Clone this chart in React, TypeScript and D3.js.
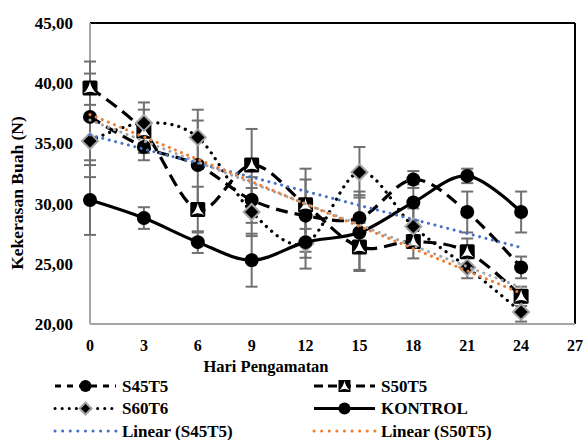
import React from "react";
import * as d3 from "d3";

const days = [0, 3, 6, 9, 12, 15, 18, 21, 24];
const s45t5 = [37.2, 34.7, 33.2, 30.3, 29.0, 28.8, 32.0, 29.3, 24.7];
const s50t5 = [39.6, 36.0, 29.5, 33.2, 29.9, 26.4, 26.85, 26.0, 22.3];
const s60t6 = [35.2, 36.7, 35.5, 29.3, 26.7, 32.6, 28.1, 24.7, 21.0];
const kontrol = [30.3, 28.8, 26.8, 25.3, 26.8, 27.6, 30.1, 32.3, 29.3];
const errS45t5 = [3.6, 1.1, 3.7, 1.9, 3.0, 2.2, 0.7, 1.7, 0.9];
const errS50t5 = [2.2, 1.8, 1.9, 3.0, 3.0, 2.0, 1.4, 1.1, 0.8];
const errS60t6 = [3.0, 1.7, 2.3, 2.0, 1.2, 2.1, 1.5, 0.9, 0.8];
const errKontrol = [2.9, 0.9, 0.9, 2.2, 2.2, 3.1, 1.5, 0.6, 1.7];
const yTicks = [20, 25, 30, 35, 40, 45];
const xTicks = [0, 3, 6, 9, 12, 15, 18, 21, 24, 27];

const W = 584, H = 440;
const FONT = "Liberation Serif, Times New Roman, DejaVu Serif, serif";

function regression(xs: number[], ys: number[]) {
  const mx = d3.mean(xs)!, my = d3.mean(ys)!;
  let sxy = 0, sxx = 0;
  xs.forEach((x, i) => { sxy += (x - mx) * (ys[i] - my); sxx += (x - mx) ** 2; });
  const b = sxy / sxx;
  const a = my - b * mx;
  return (x: number) => a + b * x;
}

const starPath = "M0,-6.5 Q1.2,0.5 6.5,5.5 Q0,2 -6.5,5.5 Q-1.2,0.5 0,-6.5 Z";

function Marker({ kind, x, y }: { kind: string; x: number; y: number }) {
  if (kind === "circle") return <circle cx={x} cy={y} r={7} fill="#000" />;
  if (kind === "diamond")
    return <path d={`M${x},${y - 8} L${x + 8},${y} L${x},${y + 8} L${x - 8},${y} Z`} fill="#000" stroke="#a5a5a5" strokeWidth={2} />;
  return (
    <g transform={`translate(${x},${y})`}>
      <rect x={-7.5} y={-7.5} width={15} height={15} rx={1.5} fill="#000" />
      <path d={starPath} fill="#fff" />
    </g>
  );
}

const T = { fontFamily: FONT, fontWeight: 700 } as React.CSSProperties;

export default function App() {
  const x = d3.scaleLinear().domain([0, 27]).range([90, 575]);
  const y = d3.scaleLinear().domain([20, 45]).range([324, 23]);
  const line = d3.line<number>().x((_, i) => x(days[i])).y((d) => y(d)).curve(d3.curveCardinal.tension(0));

  const series = [
    { name: "S45T5", vals: s45t5, err: errS45t5, dash: "12,7", marker: "circle" },
    { name: "S50T5", vals: s50t5, err: errS50t5, dash: "13,7", marker: "star" },
    { name: "S60T6", vals: s60t6, err: errS60t6, dash: "0.1,7", marker: "diamond" },
    { name: "KONTROL", vals: kontrol, err: errKontrol, dash: "none", marker: "circle" },
  ];
  const trends = [
    { vals: s45t5, color: "#4472c4" },
    { vals: s50t5, color: "#ed7d31" },
    { vals: s60t6, color: "#a5a5a5" },
  ];

  const legend = [
    { label: "S45T5", col: 0, row: 0, dash: "6,6", marker: "circle", color: "#000" },
    { label: "S50T5", col: 1, row: 0, dash: "9,5", marker: "star", color: "#000" },
    { label: "S60T6", col: 0, row: 1, dash: "0.1,7", marker: "diamond", color: "#000" },
    { label: "KONTROL", col: 1, row: 1, dash: "none", marker: "circle", color: "#000" },
    { label: "Linear (S45T5)", col: 0, row: 2, dash: "0.1,7.5", marker: "", color: "#4472c4" },
    { label: "Linear (S50T5)", col: 1, row: 2, dash: "0.1,7.5", marker: "", color: "#ed7d31" },
  ];

  return (
    <svg width={W} height={H} style={{ position: "absolute", left: 0, top: 0, background: "#fff" }}>
      <rect width={W} height={H} fill="#fff" />
      <line x1={x(0)} x2={x(27)} y1={y(45)} y2={y(45)} stroke="#000" strokeWidth={2} />
      <line x1={x(27)} x2={x(27)} y1={y(45)} y2={y(20)} stroke="#000" strokeWidth={2} />
      <line x1={x(0)} x2={x(0)} y1={y(45)} y2={y(20)} stroke="#a6a6a6" strokeWidth={2} />
      <line x1={x(0)} x2={x(27)} y1={y(20)} y2={y(20)} stroke="#a6a6a6" strokeWidth={2} />

      {yTicks.map((t) => (
        <text key={t} x={73} y={y(t)} dy="0.35em" textAnchor="end" fontSize={17} style={T}>
          {d3.format(".2f")(t).replace(".", ",")}
        </text>
      ))}
      {xTicks.map((t) => (
        <text key={t} x={x(t)} y={351} textAnchor="middle" fontSize={16} style={T}>{t}</text>
      ))}
      <text x={266} y={372} textAnchor="middle" fontSize={16.5} style={T}>Hari Pengamatan</text>
      <text transform="translate(23,193) rotate(-90)" textAnchor="middle" fontSize={17.5} style={T}>Kekerasan Buah (N)</text>

      {series.map((s) =>
        s.vals.map((v, i) => {
          const cx = x(days[i]);
          const y1 = y(v + s.err[i]), y2 = y(v - s.err[i]);
          return (
            <g key={s.name + i} stroke="#707070" strokeWidth={2}>
              <line x1={cx} x2={cx} y1={y1} y2={y2} />
              <line x1={cx - 6} x2={cx + 6} y1={y1} y2={y1} />
              <line x1={cx - 6} x2={cx + 6} y1={y2} y2={y2} />
            </g>
          );
        })
      )}

      {series.map((s) => (
        <g key={s.name}>
          <path d={line(s.vals)!} fill="none" stroke="#000" strokeWidth={3.2} strokeDasharray={s.dash} strokeLinecap={s.marker === "diamond" ? "round" : "butt"} />
          {s.vals.map((v, i) => <Marker key={i} kind={s.marker} x={x(days[i])} y={y(v)} />)}
        </g>
      ))}

      {trends.map((t, k) => {
        const f = regression(days, t.vals);
        return (
          <line key={k} x1={x(0)} x2={x(24)} y1={y(f(0))} y2={y(f(24))} stroke={t.color} strokeWidth={3} strokeDasharray="0.1,6.5" strokeLinecap="round" />
        );
      })}

      {legend.map((l) => {
        const lx = l.col === 0 ? 55 : 314;
        const ly = 386 + l.row * 22.5;
        return (
          <g key={l.label}>
            <line x1={lx} x2={lx + 61} y1={ly} y2={ly} stroke={l.color} strokeWidth={3} strokeDasharray={l.dash} strokeLinecap={l.dash.startsWith("0.1") ? "round" : "butt"} />
            {l.marker === "circle" && <circle cx={lx + 30.5} cy={ly} r={6} fill="#000" />}
            {l.marker === "diamond" && <path d={`M${lx + 30.5},${ly - 6} l6,6 l-6,6 l-6,-6 Z`} fill="#000" stroke="#a5a5a5" strokeWidth={2} />}
            {l.marker === "star" && (
              <g transform={`translate(${lx + 30.5},${ly}) scale(0.8)`}>
                <rect x={-7.5} y={-7.5} width={15} height={15} fill="#000" />
                <path d={starPath} fill="#fff" />
              </g>
            )}
            <text x={lx + 67} y={ly} dy="0.35em" fontSize={17} style={T}>{l.label}</text>
          </g>
        );
      })}
    </svg>
  );
}
